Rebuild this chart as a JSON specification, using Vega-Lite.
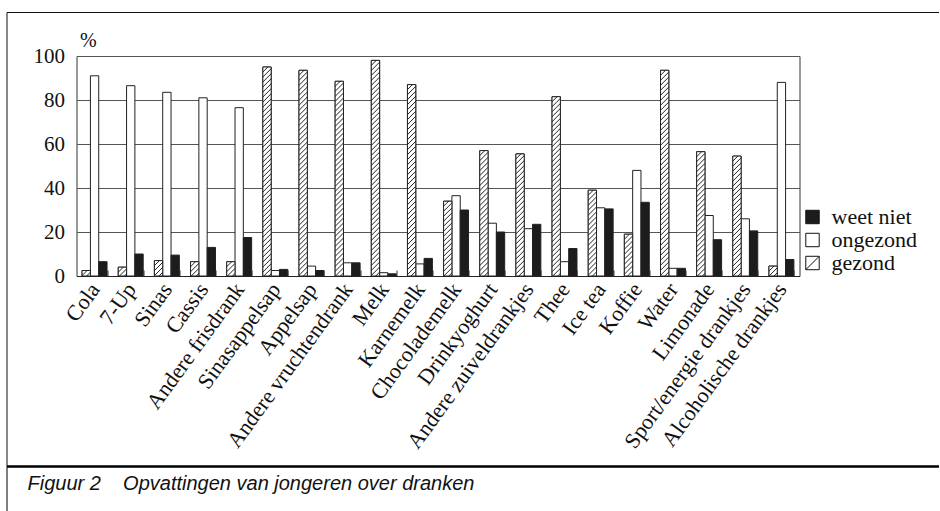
{
  "$schema": "https://vega.github.io/schema/vega-lite/v6.json",
  "padding": {"left": 2.5, "top": 11, "right": 0, "bottom": 0},
  "columns": 1,
  "spacing": 190,
  "bounds": "flush",
  "config": {"font": "Liberation Serif", "background": "white"},
  "concat": [
    {
      "width": 723,
      "height": 220,
      "view": {"stroke": "#333", "strokeWidth": 1},
      "data": {"values": [
        {"drank": "Cola", "oordeel": "gezond", "pct": 2.5},
        {"drank": "Cola", "oordeel": "ongezond", "pct": 91},
        {"drank": "Cola", "oordeel": "weet niet", "pct": 6.5},
        {"drank": "7-Up", "oordeel": "gezond", "pct": 4},
        {"drank": "7-Up", "oordeel": "ongezond", "pct": 86.5},
        {"drank": "7-Up", "oordeel": "weet niet", "pct": 10},
        {"drank": "Sinas", "oordeel": "gezond", "pct": 7},
        {"drank": "Sinas", "oordeel": "ongezond", "pct": 83.5},
        {"drank": "Sinas", "oordeel": "weet niet", "pct": 9.5},
        {"drank": "Cassis", "oordeel": "gezond", "pct": 6.5},
        {"drank": "Cassis", "oordeel": "ongezond", "pct": 81},
        {"drank": "Cassis", "oordeel": "weet niet", "pct": 13},
        {"drank": "Andere frisdrank", "oordeel": "gezond", "pct": 6.5},
        {"drank": "Andere frisdrank", "oordeel": "ongezond", "pct": 76.5},
        {"drank": "Andere frisdrank", "oordeel": "weet niet", "pct": 17.5},
        {"drank": "Sinasappelsap", "oordeel": "gezond", "pct": 95},
        {"drank": "Sinasappelsap", "oordeel": "ongezond", "pct": 2.5},
        {"drank": "Sinasappelsap", "oordeel": "weet niet", "pct": 3},
        {"drank": "Appelsap", "oordeel": "gezond", "pct": 93.5},
        {"drank": "Appelsap", "oordeel": "ongezond", "pct": 4.5},
        {"drank": "Appelsap", "oordeel": "weet niet", "pct": 2.5},
        {"drank": "Andere vruchtendrank", "oordeel": "gezond", "pct": 88.5},
        {"drank": "Andere vruchtendrank", "oordeel": "ongezond", "pct": 6},
        {"drank": "Andere vruchtendrank", "oordeel": "weet niet", "pct": 6},
        {"drank": "Melk", "oordeel": "gezond", "pct": 98},
        {"drank": "Melk", "oordeel": "ongezond", "pct": 1.5},
        {"drank": "Melk", "oordeel": "weet niet", "pct": 1},
        {"drank": "Karnemelk", "oordeel": "gezond", "pct": 87},
        {"drank": "Karnemelk", "oordeel": "ongezond", "pct": 5.5},
        {"drank": "Karnemelk", "oordeel": "weet niet", "pct": 8},
        {"drank": "Chocolademelk", "oordeel": "gezond", "pct": 34},
        {"drank": "Chocolademelk", "oordeel": "ongezond", "pct": 36.5},
        {"drank": "Chocolademelk", "oordeel": "weet niet", "pct": 30},
        {"drank": "Drinkyoghurt", "oordeel": "gezond", "pct": 57},
        {"drank": "Drinkyoghurt", "oordeel": "ongezond", "pct": 24},
        {"drank": "Drinkyoghurt", "oordeel": "weet niet", "pct": 20},
        {"drank": "Andere zuiveldrankjes", "oordeel": "gezond", "pct": 55.5},
        {"drank": "Andere zuiveldrankjes", "oordeel": "ongezond", "pct": 21.5},
        {"drank": "Andere zuiveldrankjes", "oordeel": "weet niet", "pct": 23.5},
        {"drank": "Thee", "oordeel": "gezond", "pct": 81.5},
        {"drank": "Thee", "oordeel": "ongezond", "pct": 6.5},
        {"drank": "Thee", "oordeel": "weet niet", "pct": 12.5},
        {"drank": "Ice tea", "oordeel": "gezond", "pct": 39},
        {"drank": "Ice tea", "oordeel": "ongezond", "pct": 31},
        {"drank": "Ice tea", "oordeel": "weet niet", "pct": 30.5},
        {"drank": "Koffie", "oordeel": "gezond", "pct": 19},
        {"drank": "Koffie", "oordeel": "ongezond", "pct": 48},
        {"drank": "Koffie", "oordeel": "weet niet", "pct": 33.5},
        {"drank": "Water", "oordeel": "gezond", "pct": 93.5},
        {"drank": "Water", "oordeel": "ongezond", "pct": 3.5},
        {"drank": "Water", "oordeel": "weet niet", "pct": 3.5},
        {"drank": "Limonade", "oordeel": "gezond", "pct": 56.5},
        {"drank": "Limonade", "oordeel": "ongezond", "pct": 27.5},
        {"drank": "Limonade", "oordeel": "weet niet", "pct": 16.5},
        {"drank": "Sport/energie drankjes", "oordeel": "gezond", "pct": 54.5},
        {"drank": "Sport/energie drankjes", "oordeel": "ongezond", "pct": 26},
        {"drank": "Sport/energie drankjes", "oordeel": "weet niet", "pct": 20.5},
        {"drank": "Alcoholische drankjes", "oordeel": "gezond", "pct": 4.5},
        {"drank": "Alcoholische drankjes", "oordeel": "ongezond", "pct": 88},
        {"drank": "Alcoholische drankjes", "oordeel": "weet niet", "pct": 7.5}
      ]},
      "resolve": {"scale": {"x": "independent", "y": "independent"}, "axis": {"x": "independent", "y": "independent"}},
      "layer": [
        {
          "encoding": {
            "x": {
              "field": "drank", "type": "nominal", "sort": null,
              "scale": {"paddingInner": 0.31, "paddingOuter": 0.155},
              "axis": {
                "title": null, "labelAngle": -54, "labelAlign": "right", "labelBaseline": "middle",
                "labelFont": "Liberation Serif", "labelFontSize": 22,
                "labelColor": "#111", "labelLimit": 0, "tickBand": "extent", "tickSize": -6, "tickColor": "#333",
                "domainColor": "#222", "labelPadding": 15
              }
            },
            "xOffset": {"field": "oordeel", "type": "nominal", "sort": ["gezond", "ongezond", "weet niet"], "scale": {"paddingInner": 0, "paddingOuter": 0}},
            "y": {
              "field": "pct", "type": "quantitative", "stack": null,
              "scale": {"domain": [0, 100]},
              "axis": {
                "values": [0, 20, 40, 60, 80, 100], "grid": true, "gridColor": "#555", "gridWidth": 1,
                "domain": false, "ticks": false, "labelFont": "Liberation Serif", "labelFontSize": 21,
                "labelColor": "#111", "labelPadding": 12,
                "title": "%", "titleAngle": 0, "titleFont": "Liberation Serif", "titleFontSize": 20,
                "titleFontWeight": "normal", "titleColor": "#111", "titleX": 3, "titleY": -10,
                "titleAlign": "left", "titleBaseline": "alphabetic"
              }
            }
          },
          "layer": [
            {
              "mark": {"type": "bar", "stroke": "#222", "strokeWidth": 1},
              "encoding": {
                "fill": {
                  "field": "oordeel", "type": "nominal",
                  "scale": {
                    "domain": ["weet niet", "ongezond", "gezond"],
                    "range": ["#1c1c1c", "#ffffff", "#ffffff"]
                  },
                  "legend": {
                    "title": null, "orient": "none", "legendX": 725, "legendY": 150,
                    "symbolType": "square", "symbolSize": 180, "symbolStrokeColor": "#111", "symbolStrokeWidth": 1,
                    "labelFont": "Liberation Serif", "labelFontSize": 22, "labelColor": "#111",
                    "rowPadding": 1, "labelOffset": 8,
                    "encode": {"symbols": {"update": {
                      "stroke": {"value": "#111"},
                      "strokeWidth": {"value": 1},
                      "shape": {"signal": "datum.value == 'gezond' ? 'M-1,-1H1V1H-1ZM-1,1L1,-1' : 'square'"},
                      "fill": {"signal": "datum.value == 'weet niet' ? '#1c1c1c' : '#fff'"}
                    }}}
                  }
                }
              }
            },
            {
              "transform": [{"filter": "datum.oordeel == 'gezond'"}],
              "mark": {
                "type": "bar", "stroke": "#222", "strokeWidth": 1,
                "fill": {"expr": "{gradient:'linear',x1:0,y1:0,x2:2075/(68.89+4.84*datum.pct*datum.pct),y2:550*datum.pct/(68.89+4.84*datum.pct*datum.pct),stops:[{offset:0,color:'#fff'},{offset:0.016,color:'#fff'},{offset:0.02,color:'#222'},{offset:0.024,color:'#fff'},{offset:0.036,color:'#fff'},{offset:0.04,color:'#222'},{offset:0.044,color:'#fff'},{offset:0.056,color:'#fff'},{offset:0.06,color:'#222'},{offset:0.064,color:'#fff'},{offset:0.076,color:'#fff'},{offset:0.08,color:'#222'},{offset:0.084,color:'#fff'},{offset:0.096,color:'#fff'},{offset:0.1,color:'#222'},{offset:0.104,color:'#fff'},{offset:0.116,color:'#fff'},{offset:0.12,color:'#222'},{offset:0.124,color:'#fff'},{offset:0.136,color:'#fff'},{offset:0.14,color:'#222'},{offset:0.144,color:'#fff'},{offset:0.156,color:'#fff'},{offset:0.16,color:'#222'},{offset:0.164,color:'#fff'},{offset:0.176,color:'#fff'},{offset:0.18,color:'#222'},{offset:0.184,color:'#fff'},{offset:0.196,color:'#fff'},{offset:0.2,color:'#222'},{offset:0.204,color:'#fff'},{offset:0.216,color:'#fff'},{offset:0.22,color:'#222'},{offset:0.224,color:'#fff'},{offset:0.236,color:'#fff'},{offset:0.24,color:'#222'},{offset:0.244,color:'#fff'},{offset:0.256,color:'#fff'},{offset:0.26,color:'#222'},{offset:0.264,color:'#fff'},{offset:0.276,color:'#fff'},{offset:0.28,color:'#222'},{offset:0.284,color:'#fff'},{offset:0.296,color:'#fff'},{offset:0.3,color:'#222'},{offset:0.304,color:'#fff'},{offset:0.316,color:'#fff'},{offset:0.32,color:'#222'},{offset:0.324,color:'#fff'},{offset:0.336,color:'#fff'},{offset:0.34,color:'#222'},{offset:0.344,color:'#fff'},{offset:0.356,color:'#fff'},{offset:0.36,color:'#222'},{offset:0.364,color:'#fff'},{offset:0.376,color:'#fff'},{offset:0.38,color:'#222'},{offset:0.384,color:'#fff'},{offset:0.396,color:'#fff'},{offset:0.4,color:'#222'},{offset:0.404,color:'#fff'},{offset:0.416,color:'#fff'},{offset:0.42,color:'#222'},{offset:0.424,color:'#fff'},{offset:0.436,color:'#fff'},{offset:0.44,color:'#222'},{offset:0.444,color:'#fff'},{offset:0.456,color:'#fff'},{offset:0.46,color:'#222'},{offset:0.464,color:'#fff'},{offset:0.476,color:'#fff'},{offset:0.48,color:'#222'},{offset:0.484,color:'#fff'},{offset:0.496,color:'#fff'},{offset:0.5,color:'#222'},{offset:0.504,color:'#fff'},{offset:0.516,color:'#fff'},{offset:0.52,color:'#222'},{offset:0.524,color:'#fff'},{offset:0.536,color:'#fff'},{offset:0.54,color:'#222'},{offset:0.544,color:'#fff'},{offset:0.556,color:'#fff'},{offset:0.56,color:'#222'},{offset:0.564,color:'#fff'},{offset:0.576,color:'#fff'},{offset:0.58,color:'#222'},{offset:0.584,color:'#fff'},{offset:0.596,color:'#fff'},{offset:0.6,color:'#222'},{offset:0.604,color:'#fff'},{offset:0.616,color:'#fff'},{offset:0.62,color:'#222'},{offset:0.624,color:'#fff'},{offset:0.636,color:'#fff'},{offset:0.64,color:'#222'},{offset:0.644,color:'#fff'},{offset:0.656,color:'#fff'},{offset:0.66,color:'#222'},{offset:0.664,color:'#fff'},{offset:0.676,color:'#fff'},{offset:0.68,color:'#222'},{offset:0.684,color:'#fff'},{offset:0.696,color:'#fff'},{offset:0.7,color:'#222'},{offset:0.704,color:'#fff'},{offset:0.716,color:'#fff'},{offset:0.72,color:'#222'},{offset:0.724,color:'#fff'},{offset:0.736,color:'#fff'},{offset:0.74,color:'#222'},{offset:0.744,color:'#fff'},{offset:0.756,color:'#fff'},{offset:0.76,color:'#222'},{offset:0.764,color:'#fff'},{offset:0.776,color:'#fff'},{offset:0.78,color:'#222'},{offset:0.784,color:'#fff'},{offset:0.796,color:'#fff'},{offset:0.8,color:'#222'},{offset:0.804,color:'#fff'},{offset:0.816,color:'#fff'},{offset:0.82,color:'#222'},{offset:0.824,color:'#fff'},{offset:0.836,color:'#fff'},{offset:0.84,color:'#222'},{offset:0.844,color:'#fff'},{offset:0.856,color:'#fff'},{offset:0.86,color:'#222'},{offset:0.864,color:'#fff'},{offset:0.876,color:'#fff'},{offset:0.88,color:'#222'},{offset:0.884,color:'#fff'},{offset:0.896,color:'#fff'},{offset:0.9,color:'#222'},{offset:0.904,color:'#fff'},{offset:0.916,color:'#fff'},{offset:0.92,color:'#222'},{offset:0.924,color:'#fff'},{offset:1,color:'#fff'}]}"}
              }
            }
          ]
        },
        {
          "mark": {"type": "point", "opacity": 0},
          "encoding": {
            "x": {"datum": 0, "type": "quantitative", "scale": {"domain": [0, 1], "range": [-70, 862]},
              "axis": {"orient": "top", "offset": 44, "domain": true, "domainColor": "#111", "domainWidth": 1, "ticks": false, "labels": false, "grid": false, "title": null}},
            "y": {"datum": 0, "type": "quantitative", "scale": {"domain": [0, 1], "range": [410, -44]},
              "axis": {"orient": "left", "offset": 70, "domain": true, "domainColor": "#111", "domainWidth": 1, "ticks": false, "labels": false, "grid": false, "title": null}}
          }
        }
      ]
    },
    {
      "width": 862,
      "height": 45,
      "view": {"stroke": null},
      "data": {"values": [{"caption": "Figuur 2\u00a0\u00a0\u00a0\u00a0Opvattingen van jongeren over dranken"}]},
      "mark": {"type": "text", "align": "left", "baseline": "alphabetic", "font": "Liberation Sans", "fontStyle": "italic", "fontSize": 20, "dx": 21, "color": "#111"},
      "encoding": {
        "text": {"field": "caption"},
        "x": {"datum": 0, "type": "quantitative", "scale": {"domain": [0, 1], "range": [-70, 862]},
          "axis": {"orient": "top", "domain": true, "domainColor": "#000", "domainWidth": 2.5, "ticks": false, "labels": false, "grid": false, "title": null}},
        "y": {"datum": 0.47, "type": "quantitative", "scale": {"domain": [0, 1]},
          "axis": {"orient": "left", "offset": 70, "domain": true, "domainColor": "#000", "domainWidth": 1, "ticks": false, "labels": false, "grid": false, "title": null}}
      }
    }
  ]
}
